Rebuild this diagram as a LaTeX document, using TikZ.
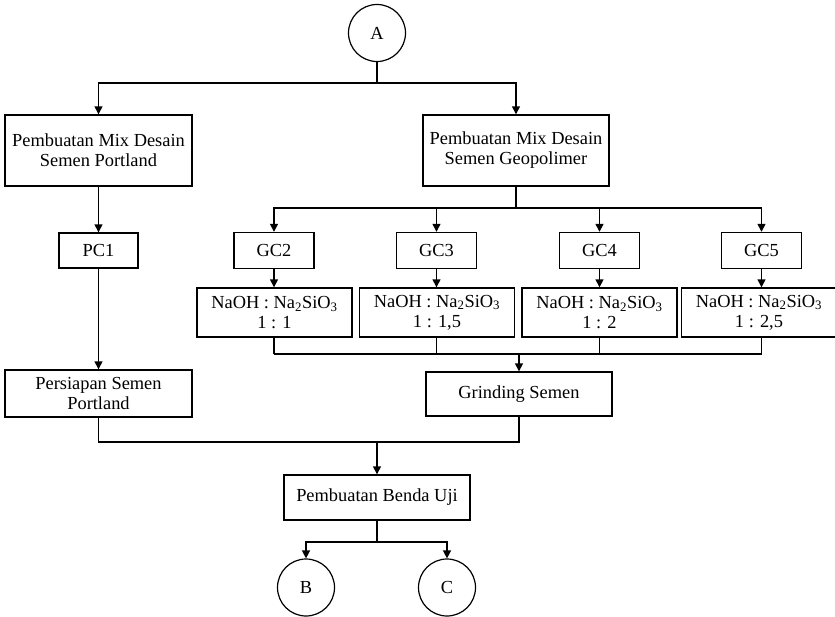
\documentclass[tikz,border=0pt]{standalone}
\usepackage{fontspec}
\setmainfont{Liberation Serif}
\usetikzlibrary{arrows.meta}
\tikzset{x=1pt, y=-1pt,
    every node/.style={
        font=\fontsize{18.4}{20}\selectfont},
    box/.style={
        draw,
        line width=1.4pt,
        inner sep=0pt,
        align=center},
    term/.style={
        draw,
        circle,
        line width=1.2pt,
        minimum size=57pt,
        inner sep=0pt},
    link/.style={
        draw,
        line width=1.4pt},
    every edge/.style={
        draw,
        -{Triangle[width=8pt,length=8pt]},
        line width=1.4pt}}

\begin{document}
\begin{tikzpicture}
        \useasboundingbox (0,0) rectangle (835,616);

        \node[term] (A) at (377,33) {A};
        \node[box,minimum width=187pt,minimum height=71pt] (mixpc) at (98.5,150.5) {Pembuatan Mix Desain\\Semen Portland};
        \node[box,minimum width=186pt,minimum height=71pt] (mixgc) at (516,150.5) {Pembuatan Mix Desain\\Semen Geopolimer};
        \node[box,minimum width=79pt,minimum height=35pt] (pc1) at (98.5,250.5) {PC1};
        \node[box,minimum width=187pt,minimum height=47pt] (prep) at (98.5,393.5) {Persiapan Semen\\Portland};
        \node[box,minimum width=186pt,minimum height=44pt] (grind) at (519,394) {Grinding Semen};
        \node[box,minimum width=186pt,minimum height=45pt] (benda) at (377,497.5) {Pembuatan Benda Uji};
        \node[term] (B) at (306,587.5) {B};
        \node[term] (C) at (447,587.5) {C};

        \coordinate (jA) at (377,83);
        \coordinate (jG) at (516,208);
        \coordinate (jR) at (519,354);
        \coordinate (jP) at (377,442);
        \coordinate (jB) at (377,542);

        \foreach \i/\x/\xr/\r in {2/274/274.5/{1 : 1}, 3/436.5/437/{1 : 1,5}, 4/599.5/599.5/{1 : 2}, 5/761.5/759/{1 : 2,5}} {
            \node[box,minimum width=80pt,minimum height=36pt] (gc\i) at (\x,250.5) {GC\i};
            \node[box,minimum width=155pt,minimum height=49pt] (ratio\i) at (\xr,312.5) {NaOH : Na\textsubscript{2}SiO\textsubscript{3}\\\r};
            \draw (jG) edge[to path={-| (\tikztotarget)}] (gc\i);
            \draw (gc\i) edge (gc\i.south |- ratio\i.north);
            \draw[link] (gc\i.south |- ratio\i.south) -- (gc\i.south |- jR);
        }

        \draw[link] (A) -- (jA);
        \draw (jA) edge[to path={-| (\tikztotarget)}] (mixpc);
        \draw (jA) edge[to path={-| (\tikztotarget)}] (mixgc);
        \draw[link] (mixgc) -- (jG);
        \draw (mixpc) edge (pc1);
        \draw (pc1) edge (prep);

        \draw[link] (gc2.south |- jR) -- (gc5.south |- jR);
        \draw (jR) edge (grind);

        \draw[link] (prep) |- (jP) -| (grind);
        \draw (jP) edge (benda);

        \draw[link] (benda) -- (jB);
        \draw (jB) edge[to path={-| (\tikztotarget)}] (B);
        \draw (jB) edge[to path={-| (\tikztotarget)}] (C);
    \end{tikzpicture}
\end{document}
